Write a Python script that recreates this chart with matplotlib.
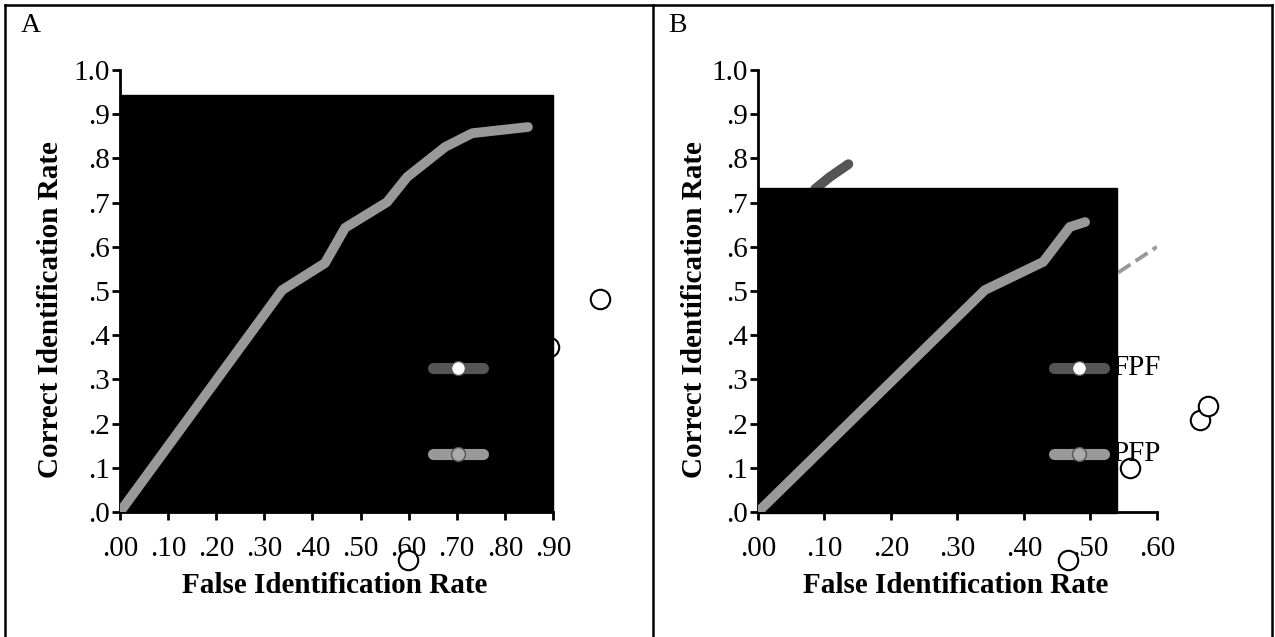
import numpy as np
import matplotlib
matplotlib.use("Agg")
import matplotlib.pyplot as plt
from matplotlib.patches import Rectangle
from matplotlib.lines import Line2D

plt.rcParams['font.family'] = ['Liberation Serif', 'DejaVu Serif']

# panel A curve (PFP)
a_x = [0.00, 0.337, 0.426, 0.468, 0.555, 0.597, 0.676, 0.732, 0.848]
a_y = [0.00, 0.502, 0.563, 0.643, 0.701, 0.758, 0.826, 0.857, 0.871]
# panel A open circles
a_pts_x = [0.998, 0.892, 0.599]
a_pts_y = [0.482, 0.373, -0.109]

# panel B curves
b_x = [0.00, 0.341, 0.429, 0.469, 0.492]
b_y = [0.00, 0.502, 0.566, 0.645, 0.656]
b_dark_x = [0.00, 0.086, 0.108, 0.136]
b_dark_y = [0.00, 0.731, 0.758, 0.787]
b_pts_x = [0.559, 0.665, 0.677, 0.466]
b_pts_y = [0.0995, 0.208, 0.240, -0.109]

series_labels = ["FPF", "PFP"]
legend_y = [0.326, 0.131]

y_ticks = np.round(np.arange(0, 1.01, 0.1), 1)
y_labels = [".0", ".1", ".2", ".3", ".4", ".5", ".6", ".7", ".8", ".9", "1.0"]
a_xticks = np.round(np.arange(0, 0.91, 0.1), 1)
b_xticks = np.round(np.arange(0, 0.61, 0.1), 1)

fig = plt.figure(figsize=(12.75, 6.37), dpi=100)
axA = fig.add_axes([0.0941, 0.1962, 0.3396, 0.6939])
axB = fig.add_axes([0.5945, 0.1962, 0.3129, 0.6939])

DARK = "#555555"
LIGHT = "#999999"
FS = 21


def setup(ax, xmax, xticks, ylab_x):
    ax.set_xlim(0, xmax)
    ax.set_ylim(0, 1.0)
    for s in ["top", "right"]:
        ax.spines[s].set_visible(False)
    for s in ["left", "bottom"]:
        ax.spines[s].set_linewidth(2)
    ax.set_yticks(y_ticks)
    ax.set_yticklabels(y_labels)
    ax.set_xticks(xticks)
    ax.set_xticklabels(["." + "%02d" % int(round(t * 100)) for t in xticks])
    ax.tick_params(width=2, length=6, labelsize=FS, pad=1)
    ax.tick_params(axis="x", pad=11)
    ax.set_xlabel("False Identification Rate", fontsize=FS, fontweight="bold")
    ax.set_ylabel("Correct Identification Rate", fontsize=FS, fontweight="bold")
    ax.xaxis.set_label_coords(0.495, -0.135)
    ax.yaxis.set_label_coords(ylab_x, 0.457)


def legend_items(ax, x0, x1, tx):
    xm = (x0 + x1) / 2
    ax.plot([x0, x1], [legend_y[0]] * 2, color=DARK, lw=8, solid_capstyle="round", zorder=5, clip_on=False)
    ax.plot([xm], [legend_y[0]], "o", ms=10, mfc="white", mec=DARK, mew=1, zorder=6, clip_on=False)
    ax.plot([x0, x1], [legend_y[1]] * 2, color=LIGHT, lw=8, solid_capstyle="round", zorder=5, clip_on=False)
    ax.plot([xm], [legend_y[1]], "o", ms=10, mfc="#aaaaaa", mec=DARK, mew=1, zorder=6, clip_on=False)
    for yy, lab in zip(legend_y, series_labels):
        ax.text(tx, yy, lab, fontsize=FS, va="center", ha="left", zorder=2.5)


# Panel A
setup(axA, 0.9, a_xticks, -0.130)
axA.plot([0, 0.9], [0, 0.9], "--", color=LIGHT, lw=2.5, zorder=2)
axA.plot(a_x, a_y, color=LIGHT, lw=7, solid_capstyle="round", zorder=4)
axA.plot(a_pts_x, a_pts_y, "o", ms=14, mfc="white", mec="black", mew=1.5, zorder=2, clip_on=False)
axA.add_patch(Rectangle((0, 0), 0.9, 0.943, color="black", zorder=3, clip_on=False))
legend_items(axA, 0.650, 0.754, 0.772)

# Panel B
setup(axB, 0.6, b_xticks, -0.125)
axB.plot([0, 0.6], [0, 0.6], "--", color=LIGHT, lw=2.8, zorder=2)
axB.plot(b_dark_x, b_dark_y, color=DARK, lw=7, solid_capstyle="round", zorder=2)
axB.plot(b_x, b_y, color=LIGHT, lw=7, solid_capstyle="round", zorder=4)
axB.plot(b_pts_x, b_pts_y, "o", ms=14, mfc="white", mec="black", mew=1.5, zorder=2, clip_on=False)
axB.add_patch(Rectangle((0, -0.003), 0.54, 0.736, color="black", zorder=3, clip_on=False))
legend_items(axB, 0.445, 0.521, 0.533)

# panel letters and frame
fig.text(31 / 1275, 1 - 25 / 637, "A", fontsize=20, ha="center", va="center")
fig.text(677 / 1275, 1 - 25 / 637, "B", fontsize=20, ha="center", va="center")
for xs, ys in [([5, 1272], [5, 5]), ([5, 5], [5, 637]), ([653, 653], [5, 637]), ([1272, 1272], [5, 637])]:
    fig.add_artist(Line2D([x / 1275 for x in xs], [1 - y / 637 for y in ys], color="black", lw=1.8))

fig.savefig("out.png", dpi=100)
